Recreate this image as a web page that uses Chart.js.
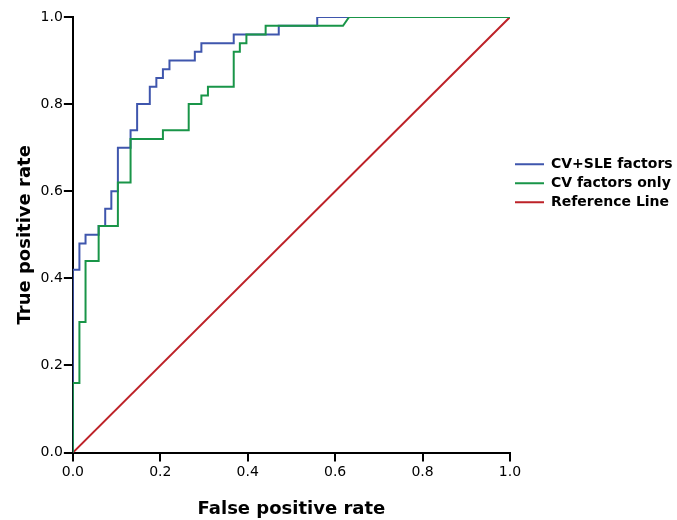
<!DOCTYPE html>
<html>
<head>
<meta charset="utf-8">
<script src="https://cdn.jsdelivr.net/npm/chart.js@4.4.1/dist/chart.umd.min.js"></script>
<style>
  html, body { margin: 0; padding: 0; background: #fff; }
</style>
</head>
<body>
<canvas id="rocChart" width="677" height="520"></canvas>
<script>
// ROC curve vertices
const sleFpr = [0, 0, 0.015, 0.015, 0.029, 0.029, 0.059, 0.059, 0.074, 0.074, 0.088, 0.088,
  0.103, 0.103, 0.132, 0.132, 0.147, 0.147, 0.176, 0.176, 0.191, 0.191, 0.206, 0.206,
  0.221, 0.221, 0.279, 0.279, 0.294, 0.294, 0.368, 0.368, 0.471, 0.471, 0.559, 0.559, 1];
const sleTpr = [0, 0.42, 0.42, 0.48, 0.48, 0.50, 0.50, 0.52, 0.52, 0.56, 0.56, 0.60,
  0.60, 0.70, 0.70, 0.74, 0.74, 0.80, 0.80, 0.84, 0.84, 0.86, 0.86, 0.88,
  0.88, 0.90, 0.90, 0.92, 0.92, 0.94, 0.94, 0.96, 0.96, 0.98, 0.98, 1.0, 1.0];

const cvFpr = [0, 0, 0.015, 0.015, 0.029, 0.029, 0.059, 0.059, 0.103, 0.103, 0.132, 0.132,
  0.206, 0.206, 0.265, 0.265, 0.294, 0.294, 0.309, 0.309, 0.368, 0.368, 0.382, 0.382,
  0.397, 0.397, 0.441, 0.441, 0.618, 0.632, 1];
const cvTpr = [0, 0.16, 0.16, 0.30, 0.30, 0.44, 0.44, 0.52, 0.52, 0.62, 0.62, 0.72,
  0.72, 0.74, 0.74, 0.80, 0.80, 0.82, 0.82, 0.84, 0.84, 0.92, 0.92, 0.94,
  0.94, 0.96, 0.96, 0.98, 0.98, 1.0, 1.0];

const refFpr = [0, 1];
const refTpr = [0, 1];

const seriesLabels = ['CV+SLE factors', 'CV factors only', 'Reference Line'];
const tickLabels = ['0.0', '0.2', '0.4', '0.6', '0.8', '1.0'];

const FONT = 'DejaVu Sans';

function toPoints(xs, ys) {
  return xs.map((x, i) => ({ x: x, y: ys[i] }));
}

const ctx = document.getElementById('rocChart').getContext('2d');

new Chart(ctx, {
  type: 'line',
  data: {
    datasets: [{
      label: seriesLabels[0],
      data: toPoints(sleFpr, sleTpr),
      borderColor: '#3f56ad',
      backgroundColor: '#3f56ad',
      order: 1
    }, {
      label: seriesLabels[1],
      data: toPoints(cvFpr, cvTpr),
      borderColor: '#199548',
      backgroundColor: '#199548',
      order: 0
    }, {
      label: seriesLabels[2],
      data: toPoints(refFpr, refTpr),
      borderColor: '#bd2228',
      backgroundColor: '#bd2228',
      order: 2
    }]
  },
  options: {
    responsive: false,
    animation: false,
    elements: {
      point: { radius: 0, hoverRadius: 0 },
      line: { borderWidth: 2, tension: 0 }
    },
    layout: {
      padding: { top: 17, left: 15, right: 2, bottom: 0 }
    },
    plugins: {
      tooltip: { enabled: false },
      legend: {
        position: 'right',
        align: 'start',
        // empty title used as a spacer to drop the legend to mid height
        title: {
          display: true,
          text: '',
          font: { size: 1 },
          padding: { top: 134, bottom: 0 }
        },
        labels: {
          boxWidth: 29,
          boxHeight: 0,
          padding: 5,
          color: '#000',
          font: { family: FONT, size: 14, weight: 'bold' },
          sort: (a, b) => a.datasetIndex - b.datasetIndex
        }
      }
    },
    scales: {
      x: {
        type: 'linear',
        min: 0,
        max: 1,
        border: { color: '#000', width: 2 },
        grid: { drawOnChartArea: false, drawTicks: true, tickLength: 9, color: '#000', lineWidth: 2 },
        ticks: {
          stepSize: 0.2,
          padding: 2,
          color: '#000',
          font: { family: FONT, size: 14 },
          maxRotation: 0,
          callback: (v, i) => tickLabels[i]
        },
        title: {
          display: true,
          text: 'False positive rate',
          color: '#000',
          font: { family: FONT, size: 18, weight: 'bold' },
          padding: { top: 16, bottom: 0 }
        }
      },
      y: {
        type: 'linear',
        min: 0,
        max: 1,
        border: { color: '#000', width: 2 },
        grid: { drawOnChartArea: false, drawTicks: true, tickLength: 9, color: '#000', lineWidth: 2 },
        ticks: {
          stepSize: 0.2,
          padding: 1,
          color: '#000',
          font: { family: FONT, size: 14 },
          callback: (v, i) => tickLabels[i]
        },
        title: {
          display: true,
          text: 'True positive rate',
          color: '#000',
          font: { family: FONT, size: 18, weight: 'bold' },
          padding: { top: 0, bottom: 3 }
        }
      }
    }
  }
});
</script>
</body>
</html>
